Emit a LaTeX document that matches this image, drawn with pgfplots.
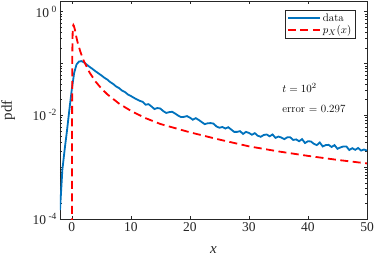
\documentclass[border=0pt]{standalone}
\usepackage{pgfplots}
\pgfplotsset{compat=1.18}
\usepackage{fontspec}
\newfontfamily\tnr{Liberation Serif}
\definecolor{mblue}{rgb}{0,0.447,0.741}
\definecolor{axgray}{rgb}{0.15,0.15,0.15}
\newcommand{\tenpow}[1]{10\hspace{2.5pt}\raisebox{5pt}{\fontsize{9.5}{10}\selectfont #1}}
\begin{document}
\begin{tikzpicture}
\begin{axis}[
  scale only axis, width=307pt, height=218pt,
  xmin=-2, xmax=50, ymode=log, ymin=1e-4, ymax=1.6,
  xtick={0,10,20,30,40,50},
  xticklabels={0,10,20,30,40,50},
  ytick={1e-4,1e-3,1e-2,1e-1,1},
  yticklabels={\tenpow{-4},,\tenpow{-2},,\tenpow{0}},
  minor ytick={2e-4,3e-4,4e-4,5e-4,6e-4,7e-4,8e-4,9e-4,2e-3,3e-3,4e-3,5e-3,6e-3,7e-3,8e-3,9e-3,2e-2,3e-2,4e-2,5e-2,6e-2,7e-2,8e-2,9e-2,0.2,0.3,0.4,0.5,0.6,0.7,0.8,0.9},
  tick align=inside,
  major tick length=3pt, minor tick length=1.8pt,
  axis line style={axgray, line width=0.5pt},
  tick style={axgray, line width=0.5pt},
  ticklabel style={font=\tnr\fontsize{13.5}{14}\selectfont, text=axgray},
  xlabel={\tnr\itshape x},
  ylabel={\tnr pdf},
  label style={font=\fontsize{15}{16}\selectfont, text=axgray},
  xlabel style={at={(axis description cs:0.5,-0.142)}, anchor=center},
  ylabel style={at={(axis description cs:-0.169,0.5)}, anchor=center},
  legend style={at={(rel axis cs:0.961,0.959)}, anchor=north east,
    font=\fontsize{11}{13}\selectfont, draw=axgray, line width=0.5pt,
    inner sep=1.5pt, row sep=-1.5pt, legend cell align=left},
  legend image code/.code={\draw[#1] (0pt,0pt) -- (32pt,0pt);},
]
\addplot[mblue, line width=1.8pt] coordinates {
(-2.0,1.48e-4) (-1.6,8.91e-4) (-1.2,2.24e-3) (-0.8,5.25e-3) (-0.4,0.0132)
(0.0,0.0316) (0.4,0.0661) (0.8,0.0955) (1.2,0.1084) (1.6,0.1109)
(2.0,0.106) (2.5,0.0955) (3.0,0.0861) (3.5,0.0785) (4.0,0.0708)
(4.5,0.0646) (5.0,0.0589) (5.5,0.0531) (6.0,0.0490) (6.5,0.0437)
(7.0,0.0403) (7.5,0.0360) (8.0,0.0335) (8.5,0.0300) (9.0,0.0281)
(9.5,0.0252) (10.0,0.0236) (10.5,0.0218) (11.0,0.0203) (11.5,0.0190)
(12.0,0.0182) (12.5,0.0160) (13.0,0.0164) (13.5,0.0148) (14.0,0.0132)
(14.5,0.0138) (15.0,0.0135) (15.5,0.0120) (16.0,0.0111) (16.5,0.0115)
(17.0,0.0117) (17.5,0.0108) (18.0,0.00989) (18.5,0.00923) (19.0,0.00933)
(19.5,0.00966) (20.0,0.00902) (20.5,0.00822) (21.0,0.00881) (21.5,0.00813)
(22.0,0.00741) (22.5,0.00676) (23.0,0.00700) (23.5,0.00708) (24.0,0.00692)
(24.5,0.00610) (25.0,0.00575) (25.5,0.00596) (26.0,0.00556) (26.5,0.00589)
(27.0,0.00531) (27.5,0.00479) (28.0,0.00479) (28.5,0.00495) (29.0,0.00437)
(29.5,0.00479) (30.0,0.00457) (30.5,0.00422) (31.0,0.00452) (31.5,0.00403)
(32.0,0.00385) (32.5,0.00417) (33.0,0.00427) (33.5,0.00394) (34.0,0.00427)
(34.5,0.00367) (35.0,0.00389) (35.5,0.00372) (36.0,0.00347) (36.5,0.00376)
(37.0,0.00376) (37.5,0.00335) (38.0,0.00343) (38.5,0.00316) (39.0,0.00347)
(39.5,0.00292) (40.0,0.00316) (40.5,0.00313) (41.0,0.00282) (41.5,0.00266)
(42.0,0.00299) (42.5,0.00251) (43.0,0.00266) (43.5,0.00269) (44.0,0.00245)
(44.5,0.00266) (45.0,0.00226) (45.5,0.00240) (46.0,0.00251) (46.5,0.00251)
(47.0,0.00214) (47.5,0.00232) (48.0,0.00216) (48.5,0.00234) (49.0,0.00209)
(49.5,0.00219) (50.0,0.00209)
};
\addlegendentry{data}
\addplot[red, line width=1.8pt, dash pattern=on 8pt off 4.5pt] coordinates {
(0.02,1e-8) (0.05,0.011) (0.08,0.106) (0.1,0.207) (0.15,0.427) (0.2,0.52)
(0.27,0.55) (0.35,0.53) (0.5,0.46) (0.75,0.33) (1,0.25) (1.5,0.162)
(2,0.114) (3,0.067) (4,0.045) (5,0.033) (6,0.0255) (8,0.0168)
(10,0.0122) (12.5,0.0088) (15,0.0068) (20,0.0047) (25,0.0034)
(30,0.00252) (35,0.00201) (40,0.00165) (45,0.00138) (50,0.00118)
};
\addlegendentry{$p_X(x)$}
\node[anchor=west, font=\fontsize{11}{13}\selectfont] at (rel axis cs:0.713,0.601) {$t = 10^2$};
\node[anchor=west, font=\fontsize{11}{13}\selectfont] at (rel axis cs:0.713,0.505) {error $=$ 0.297};
\end{axis}
\pgfresetboundingbox
\path ([xshift=-60pt,yshift=-41pt]current axis.south west) rectangle ([xshift=7pt,yshift=1pt]current axis.north east);
\end{tikzpicture}
\end{document}
